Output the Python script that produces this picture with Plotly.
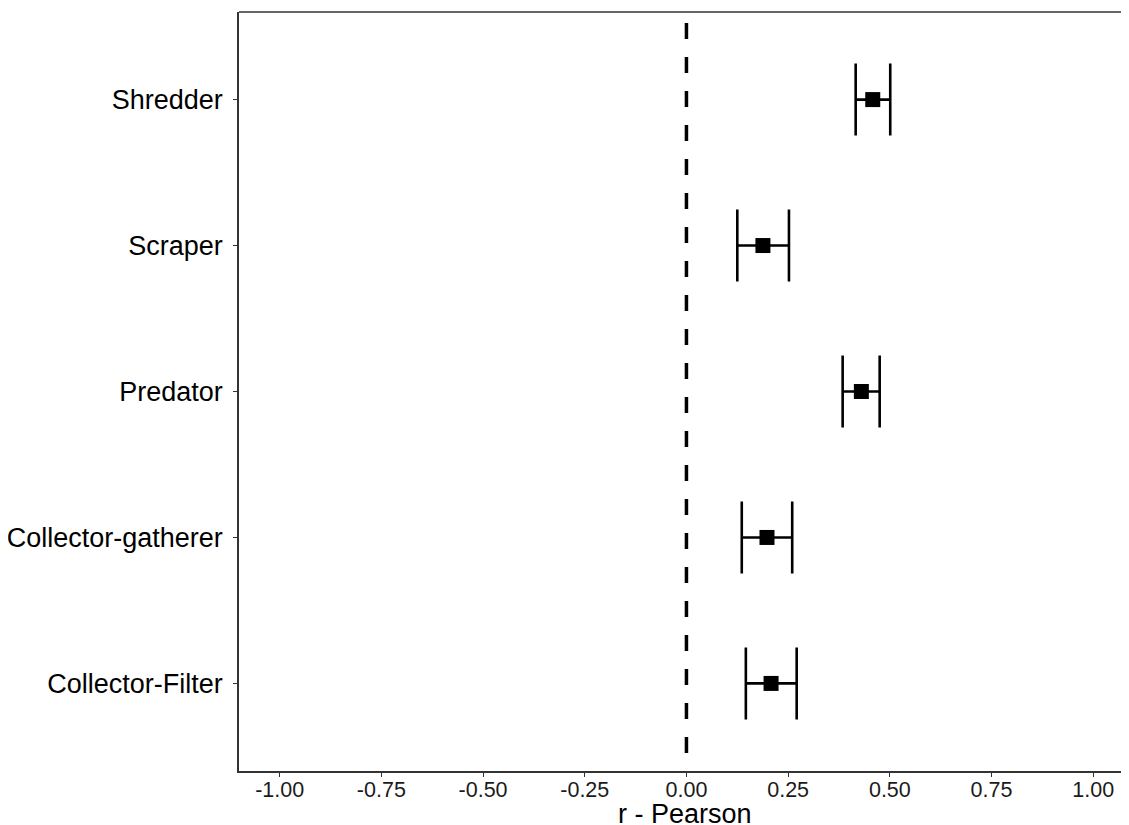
import plotly.graph_objects as go

groups = ["Collector-Filter", "Collector-gatherer", "Predator", "Scraper", "Shredder"]
r_values = [0.208, 0.198, 0.430, 0.188, 0.458]
ci_low = [0.146, 0.136, 0.384, 0.125, 0.416]
ci_high = [0.271, 0.260, 0.475, 0.252, 0.501]
x_ticks = [-1.0, -0.75, -0.5, -0.25, 0.0, 0.25, 0.5, 0.75, 1.0]
x_tick_labels = ["-1.00", "-0.75", "-0.50", "-0.25", "0.00", "0.25", "0.50", "0.75", "1.00"]
x_title = "r - Pearson"

err_plus = [h - v for h, v in zip(ci_high, r_values)]
err_minus = [v - l for v, l in zip(r_values, ci_low)]

fig = go.Figure()
fig.add_trace(go.Scatter(
    x=r_values, y=groups, mode="markers",
    marker=dict(symbol="square", size=15, color="black"),
    error_x=dict(type="data", symmetric=False, array=err_plus, arrayminus=err_minus,
                 color="black", thickness=2.6, width=36),
    showlegend=False,
))

fig.add_shape(type="line", xref="x", yref="paper", x0=0, x1=0, y0=0.9855, y1=0,
              line=dict(color="black", width=3.5, dash="16px,18px"))
fig.add_shape(type="line", xref="paper", yref="paper", x0=0, x1=1.01, y0=1, y1=1,
              line=dict(color="#333333", width=1.5))

fig.add_annotation(text=x_title, xref="x", x=-0.004, yref="paper", y=-0.056,
                   xanchor="center", yanchor="middle", showarrow=False,
                   font=dict(size=27, color="black"))

fig.update_layout(
    width=1121, height=817,
    margin=dict(l=231, r=1, t=4, b=54, autoexpand=False),
    plot_bgcolor="white", paper_bgcolor="white",
    font=dict(family="Liberation Sans, Arial, sans-serif", color="black"),
    xaxis=dict(range=[-1.1, 1.0855], tickvals=x_ticks, ticktext=x_tick_labels,
               automargin=False,
               showgrid=False, zeroline=False, showline=True, linecolor="#333333", linewidth=1.5,
               ticks="outside", ticklen=4, tickcolor="#333333", tickwidth=1.2,
               tickfont=dict(size=21.5, color="#1a1a1a"), ticklabelstandoff=-6),
    yaxis=dict(type="category", categoryorder="array", categoryarray=groups, range=[-0.6, 4.6],
               automargin=False,
               showgrid=False, zeroline=False, showline=True, linecolor="#333333", linewidth=1.5,
               ticks="outside", ticklen=4, tickcolor="#333333", tickwidth=1.2,
               tickfont=dict(size=27, color="black"), ticklabelstandoff=5),
)

fig.write_html("out.html")
